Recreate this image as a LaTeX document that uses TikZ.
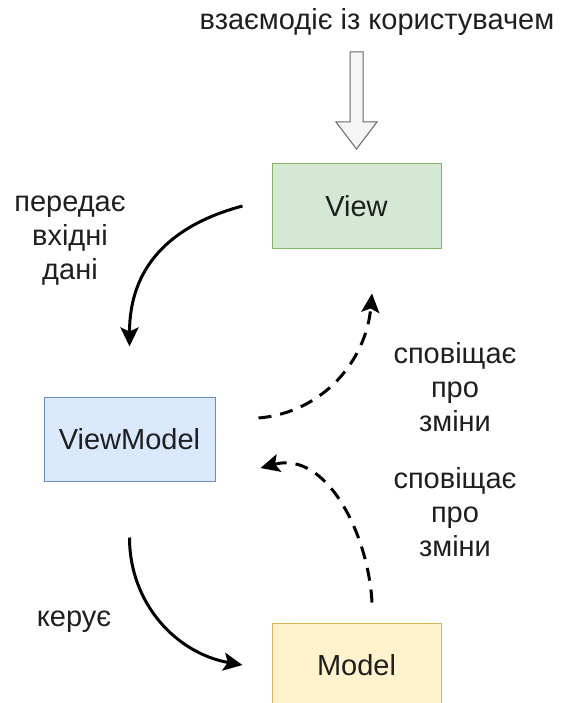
\documentclass[tikz,border=0pt]{standalone}
\usepackage{fontspec}
\setmainfont{Liberation Sans}
\usetikzlibrary{arrows.meta}

\definecolor{viewfill}{HTML}{D5E8D4}
\definecolor{viewdraw}{HTML}{82B366}
\definecolor{vmfill}{HTML}{DAE8FC}
\definecolor{vmdraw}{HTML}{6C8EBF}
\definecolor{modelfill}{HTML}{FFF2CC}
\definecolor{modeldraw}{HTML}{D6B656}

\tikzstyle{txt} = [font=\fontsize{29}{34}\selectfont, align=center, text=black!88]
\tikzstyle{block} = [txt, draw, rectangle, line width=1pt, minimum width=169pt, minimum height=84pt]
\tikzstyle{flow} = [line width=3pt, -{Stealth[length=19pt,width=18pt,inset=4pt]}]
\tikzstyle{notify} = [flow, dash pattern=on 13pt off 9pt]

\begin{document}
\begin{tikzpicture}[x=1pt, y=-1pt]
      \useasboundingbox (0,0) rectangle (561,703);
      \node [txt] (user) at (377,22) {взаємодіє із користувачем};
      \node [block, fill=viewfill, draw=viewdraw] (view) at (356.5,206) {View};
      \node [block, fill=vmfill, draw=vmdraw, minimum width=171pt] (vm) at (129.5,439) {ViewModel};
      \node [block, fill=modelfill, draw=modeldraw] (model) at (356.5,665) {Model};

      % block arrow from the user
      \draw [fill=black!4, draw=black!60, line width=1pt]
        (350,52) -- (363,52) -- (363,122) -- (377,122) -- (356.5,149)
        -- (336,122) -- (350,122) -- cycle;

      \coordinate (in1) at ([xshift=-29pt]view.west);
      \coordinate (in2) at ([yshift=50pt]vm.north);
      \coordinate (up1) at ([xshift=43pt,yshift=21pt]vm.east);
      \coordinate (up2) at ([xshift=15.5pt,yshift=-45pt]view.south);
      \coordinate (md1) at ([xshift=15.5pt,yshift=20pt]model.north);
      \coordinate (md2) at ([xshift=45pt,yshift=-29pt]vm.east);
      \coordinate (ct1) at ([yshift=-56pt]vm.south);
      \coordinate (ct2) at ([xshift=-29pt]model.west);

      \draw [flow] (in1) to[out=195, in=90, looseness=1.1] (in2);
      \draw [notify] (up1) to[out=5, in=-95] (up2);
      \draw [notify] (md1) to[out=93, in=15] (md2);
      \draw [flow] (ct1) to[out=-90, in=170] (ct2);

      \node [txt] (lbl1) at (70,241) {передає\\вхідні\\дані};
      \node [txt] (lbl2) at (455,387) {сповіщає\\про\\зміни};
      \node [txt] (lbl3) at (455,512) {сповіщає\\про\\зміни};
      \node [txt] (lbl4) at (74,622) {керує};
\end{tikzpicture}
\end{document}
